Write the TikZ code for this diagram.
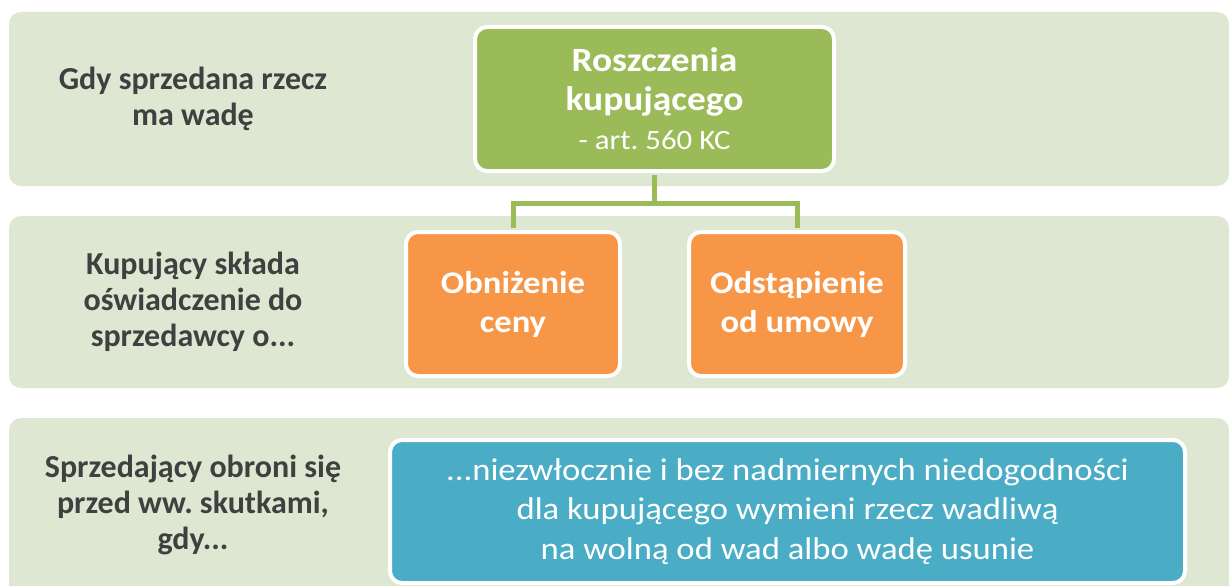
\documentclass[tikz,border=0pt]{standalone}
\usepackage{fontspec}
\setmainfont{Carlito}
\newfontfamily\boxfont[FakeStretch=1.1]{Carlito}
\definecolor{bandc}{HTML}{DEE7D1}
\definecolor{greenc}{HTML}{9BBB59}
\definecolor{orangec}{HTML}{F79646}
\definecolor{bluec}{HTML}{4BACC6}
\definecolor{labelc}{HTML}{404040}
\tikzset{
  band/.style={rectangle, rounded corners=12pt, fill=bandc, inner sep=0pt, minimum width=1220pt},
  box/.style={rectangle, rounded corners=12pt, draw=white, line width=4pt, inner sep=0pt, text=white, align=center},
  lbl/.style={text=labelc, align=center, font=\fontsize{32}{36}\selectfont\bfseries},
  conn/.style={draw=greenc, line width=5pt}
}
\begin{document}
\frenchspacing
\begin{tikzpicture}[x=1pt,y=-1pt]
\useasboundingbox (0,0) rectangle (1229,586);
\clip (0,0) rectangle (1229,586);
\fill[white] (0,0) rectangle (1229,586);
% bands
\node[band, minimum height=174pt] (b1) at (619,99) {};
\node[band, minimum height=172pt] (b2) at (619,302) {};
\node[band, minimum height=182pt] (b3) at (619,509) {};
% labels
\node[lbl] (l1) at (193,99) {Gdy sprzedana rzecz\\ma wadę};
\node[lbl] (l2) at (193,302) {Kupujący składa\\oświadczenie do\\sprzedawcy o...};
\node[lbl] (l3) at (193,505) {Sprzedający obroni się\\przed ww. skutkami,\\gdy...};
% connector junction
\coordinate (j) at (654.5,203);
% boxes
\node[box, fill=greenc, minimum width=359pt, minimum height=144pt, font=\boxfont\fontsize{34}{39}\selectfont] (g) at (654.5,99)
  {\textbf{Roszczenia}\\\textbf{kupującego}\\{\fontsize{28}{39}\selectfont - art. 560 KC}};
\node[box, fill=orangec, minimum width=214pt, minimum height=144pt, font=\boxfont\fontsize{31.5}{39}\selectfont\bfseries] (o1) at (513,304)
  {Obniżenie\\ceny};
\node[box, fill=orangec, minimum width=216pt, minimum height=144pt, font=\boxfont\fontsize{31.5}{39}\selectfont\bfseries] (o2) at (797,304)
  {Odstąpienie\\od umowy};
\node[box, fill=bluec, minimum width=795pt, minimum height=143pt, font=\boxfont\fontsize{31.5}{39.5}\selectfont] (bl) at (787.5,511.5)
  {...niezwłocznie i bez nadmiernych niedogodności\\dla kupującego wymieni rzecz wadliwą\\na wolną od wad albo wadę usunie};
% connectors
\draw[conn, shorten <=2pt] (g.south) -- (j);
\draw[conn, shorten >=2pt] (j) -| (o1.north);
\draw[conn, shorten >=2pt] (j) -| (o2.north);
\end{tikzpicture}
\end{document}
